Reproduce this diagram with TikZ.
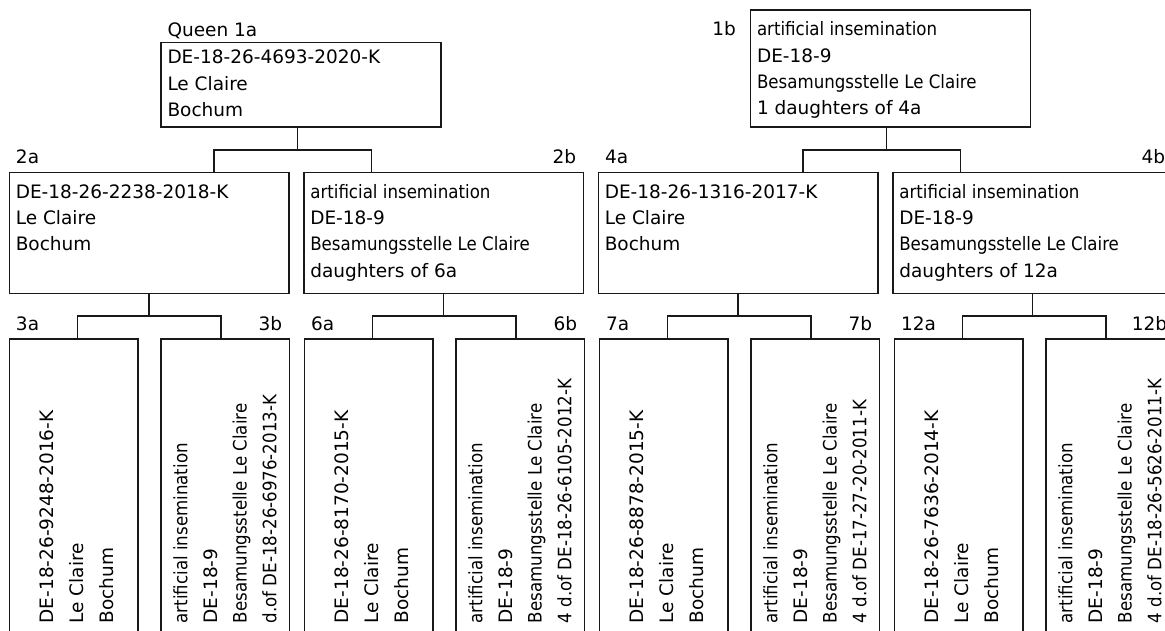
\documentclass[tikz,border=0pt]{standalone}
\usepackage{fontspec}
\setmainfont{DejaVu Sans}
\newfontfamily\narrowfont[FakeStretch=0.9]{DejaVu Sans}
\newcommand{\sq}[1]{{\narrowfont #1}}
\usetikzlibrary{positioning}

\begin{document}
\begin{tikzpicture}[
x=1pt, y=1pt,
box/.style={draw=black!90, line width=1.5pt, inner sep=0pt, outer sep=0pt, anchor=north west},
topbox/.style={box, minimum width=280pt, minimum height=#1},
midbox/.style={box, minimum width=279.5pt, minimum height=121pt},
leafbox/.style={box, minimum width=128.5pt, minimum height=330pt},
link/.style={draw=black!90, line width=1.5pt},
txt/.style={inner sep=0pt, align=left, anchor=base west, font=\fontsize{18.5}{26.3}\selectfont},
lbl/.style={inner sep=0pt, font=\fontsize{18.5}{22}\selectfont},
rtxt/.style={inner sep=0pt, align=left, rotate=90, anchor=base west, font=\fontsize{18.5}{29.7}\selectfont}
]
\useasboundingbox (0,0) rectangle (1165,-630);
\clip (0,0) rectangle (1165,-630);

% --- Generation 1 ---
\node[topbox=84.5pt] (q1a) at (161,-42.3) {};
\node[topbox=117pt] (q1b) at (750.5,-10) {};

% (base of a multi-line node = its last line)
\node[lbl, anchor=base west] (l1a) at ([shift={(6.3,6.3)}]q1a.north west) {Queen 1a};
\node[txt] (t1a) at ([shift={(6.3,-74)}]q1a.north west)
  {DE-18-26-4693-2020-K\\Le Claire\\Bochum};
\node[lbl, anchor=base east] (l1b) at ([shift={(-14.5,-25.7)}]q1b.north west) {1b};
\node[txt] (t1b) at ([shift={(6.3,-104.6)}]q1b.north west)
  {\sq{artificial insemination}\\DE-18-9\\\sq{Besamungsstelle Le Claire}\\1 daughters of 4a};

% --- Generation 2 ---
\node[midbox] (q2a) at (9.3,-172.7) {};
\node[midbox, right=15pt of q2a] (q2b) {};
\node[midbox, right=15pt of q2b] (q4a) {};
\node[midbox, right=15pt of q4a] (q4b) {};

\node[lbl, anchor=base west] (l2a) at ([shift={(6.5,9.4)}]q2a.north west) {2a};
\node[lbl, anchor=base east] (l2b) at ([shift={(-7,9.4)}]q2b.north east) {2b};
\node[lbl, anchor=base west] (l4a) at ([shift={(6.5,9.4)}]q4a.north west) {4a};
\node[lbl, anchor=base east] (l4b) at ([shift={(-7,9.4)}]q4b.north east) {4b};

\node[txt] (t2a) at ([shift={(6.3,-78.2)}]q2a.north west)
  {DE-18-26-2238-2018-K\\Le Claire\\Bochum};
\node[txt] (t2b) at ([shift={(6.3,-104.5)}]q2b.north west)
  {\sq{artificial insemination}\\DE-18-9\\\sq{Besamungsstelle Le Claire}\\daughters of 6a};
\node[txt] (t4a) at ([shift={(6.3,-78.2)}]q4a.north west)
  {DE-18-26-1316-2017-K\\Le Claire\\Bochum};
\node[txt] (t4b) at ([shift={(6.3,-104.5)}]q4b.north west)
  {\sq{artificial insemination}\\DE-18-9\\\sq{Besamungsstelle Le Claire}\\daughters of 12a};

% --- Generation 3 ---
\node[leafbox] (q3a) at (9.3,-339) {};
\node[leafbox, right=23pt of q3a] (q3b) {};
\node[leafbox, right=15pt of q3b] (q6a) {};
\node[leafbox, right=23pt of q6a] (q6b) {};
\node[leafbox, right=15pt of q6b] (q7a) {};
\node[leafbox, right=23pt of q7a] (q7b) {};
\node[leafbox, right=15pt of q7b] (q12a) {};
\node[leafbox, right=23pt of q12a] (q12b) {};

\node[lbl, anchor=base west] (l3a) at ([shift={(6.5,9)}]q3a.north west) {3a};
\node[lbl, anchor=base east] (l3b) at ([shift={(-7,9)}]q3b.north east) {3b};
\node[lbl, anchor=base west] (l6a) at ([shift={(6.5,9)}]q6a.north west) {6a};
\node[lbl, anchor=base east] (l6b) at ([shift={(-7,9)}]q6b.north east) {6b};
\node[lbl, anchor=base west] (l7a) at ([shift={(6.5,9)}]q7a.north west) {7a};
\node[lbl, anchor=base east] (l7b) at ([shift={(-7,9)}]q7b.north east) {7b};
\node[lbl, anchor=base west] (l12a) at ([shift={(6.5,9)}]q12a.north west) {12a};
\node[lbl, anchor=base east] (l12b) at ([shift={(-7,9)}]q12b.north east) {12b};

\node[rtxt] (t3a) at ([shift={(103.9,-284.5)}]q3a.north west)
  {DE-18-26-9248-2016-K\\Le Claire\\Bochum};
\node[rtxt] (t3b) at ([shift={(115.6,-284.5)}]q3b.north west)
  {\sq{artificial insemination}\\DE-18-9\\\sq{Besamungsstelle Le Claire}\\\sq{d.of DE-18-26-6976-2013-K}};
\node[rtxt] (t6a) at ([shift={(103.9,-284.5)}]q6a.north west)
  {DE-18-26-8170-2015-K\\Le Claire\\Bochum};
\node[rtxt] (t6b) at ([shift={(115.6,-284.5)}]q6b.north west)
  {\sq{artificial insemination}\\DE-18-9\\\sq{Besamungsstelle Le Claire}\\\sq{4 d.of DE-18-26-6105-2012-K}};
\node[rtxt] (t7a) at ([shift={(103.9,-284.5)}]q7a.north west)
  {DE-18-26-8878-2015-K\\Le Claire\\Bochum};
\node[rtxt] (t7b) at ([shift={(115.6,-284.5)}]q7b.north west)
  {\sq{artificial insemination}\\DE-18-9\\\sq{Besamungsstelle Le Claire}\\\sq{4 d.of DE-17-27-20-2011-K}};
\node[rtxt] (t12a) at ([shift={(103.9,-284.5)}]q12a.north west)
  {DE-18-26-7636-2014-K\\Le Claire\\Bochum};
\node[rtxt] (t12b) at ([shift={(115.6,-284.5)}]q12b.north west)
  {\sq{artificial insemination}\\DE-18-9\\\sq{Besamungsstelle Le Claire}\\\sq{4 d.of DE-18-26-5626-2011-K}};

% --- Connectors ---
\draw[link] ([xshift=-3.7pt]q1a.south) -- ++(0,-23) coordinate (j1a);
\draw[link] ([xshift=65pt]q2a.north) |- (j1a) -| ([xshift=-72pt]q2b.north);
\draw[link] ([xshift=-3.8pt]q1b.south) -- ++(0,-23) coordinate (j1b);
\draw[link] ([xshift=65pt]q4a.north) |- (j1b) -| ([xshift=-72pt]q4b.north);

\draw[link] (q2a.south) -- ++(0,-22.5) coordinate (j2a);
\draw[link] ([xshift=4pt]q3a.north) |- (j2a) -| ([xshift=-4pt]q3b.north);
\draw[link] (q2b.south) -- ++(0,-22.5) coordinate (j2b);
\draw[link] ([xshift=4pt]q6a.north) |- (j2b) -| ([xshift=-4pt]q6b.north);
\draw[link] (q4a.south) -- ++(0,-22.5) coordinate (j4a);
\draw[link] ([xshift=4pt]q7a.north) |- (j4a) -| ([xshift=-4pt]q7b.north);
\draw[link] (q4b.south) -- ++(0,-22.5) coordinate (j4b);
\draw[link] ([xshift=4pt]q12a.north) |- (j4b) -| ([xshift=-4pt]q12b.north);

\end{tikzpicture}
\end{document}
